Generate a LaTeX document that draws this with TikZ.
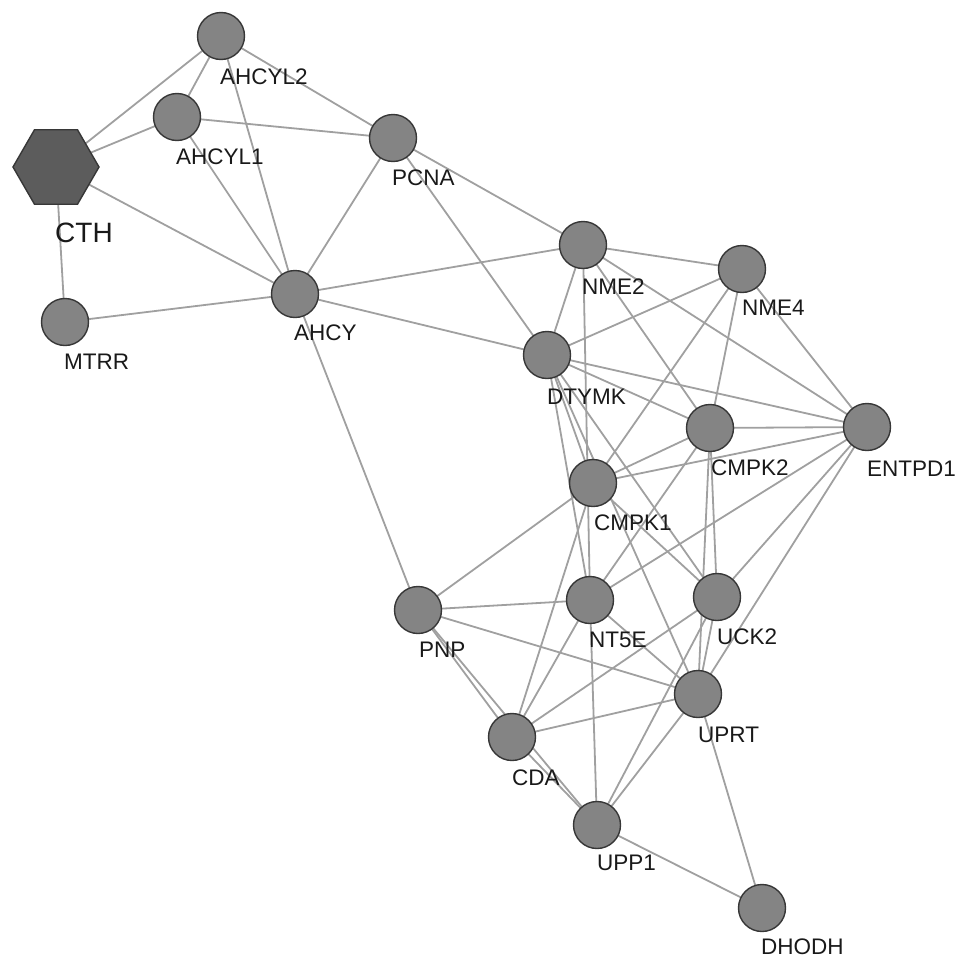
\documentclass[tikz,border=0pt]{standalone}
\usepackage{fontspec}
\setmainfont{Liberation Sans}
\usetikzlibrary{shapes.geometric,backgrounds}
\definecolor{nodefill}{RGB}{132,132,132}
\definecolor{nodeline}{RGB}{55,55,55}
\definecolor{hexfill}{RGB}{92,92,92}
\definecolor{edgecol}{RGB}{160,160,160}
\definecolor{txtcol}{RGB}{25,25,25}
\tikzset{
  gene/.style={circle,fill=nodefill,draw=nodeline,line width=1.4pt,minimum size=47pt,inner sep=0pt},
  hub/.style={regular polygon,regular polygon sides=6,fill=hexfill,draw=nodeline,line width=1.4pt,minimum size=86pt,inner sep=0pt},
  lbl/.style={anchor=west,inner sep=0pt,text=txtcol,font=\fontsize{22.5}{24}\selectfont},
  biglbl/.style={anchor=west,inner sep=0pt,text=txtcol,font=\fontsize{28}{30}\selectfont},
  link/.style={draw=edgecol,line width=1.8pt}
}
\begin{document}
\begin{tikzpicture}[x=1pt,y=-1pt]
\useasboundingbox (0,0) rectangle (969,969);
% nodes
\node[hub]  (CTH)    at (56,167) {};
\node[gene] (AHCYL2) at (221,36) {};
\node[gene] (AHCYL1) at (177,117) {};
\node[gene] (PCNA)   at (393,138) {};
\node[gene] (MTRR)   at (65,322) {};
\node[gene] (AHCY)   at (295,294) {};
\node[gene] (NME2)   at (583,245) {};
\node[gene] (NME4)   at (742,269) {};
\node[gene] (DTYMK)  at (547,355) {};
\node[gene] (CMPK2)  at (710,428) {};
\node[gene] (ENTPD1) at (867,427) {};
\node[gene] (CMPK1)  at (593,483) {};
\node[gene] (PNP)    at (418,610) {};
\node[gene] (NT5E)   at (590,600) {};
\node[gene] (UCK2)   at (717,597) {};
\node[gene] (UPRT)   at (698,694) {};
\node[gene] (CDA)    at (512,737) {};
\node[gene] (UPP1)   at (597,825) {};
\node[gene] (DHODH)  at (762,908) {};
% labels
\node[biglbl] (lCTH)    at (55,233) {CTH};
\node[lbl] (lAHCYL2) at (220,77) {AHCYL2};
\node[lbl] (lAHCYL1) at (176,157) {AHCYL1};
\node[lbl] (lPCNA)   at (392,178) {PCNA};
\node[lbl] (lMTRR)   at (64,362) {MTRR};
\node[lbl] (lAHCY)   at (294,333) {AHCY};
\node[lbl] (lNME2)   at (582,287) {NME2};
\node[lbl] (lNME4)   at (742,308) {NME4};
\node[lbl] (lDTYMK)  at (547,397) {DTYMK};
\node[lbl] (lCMPK2)  at (711,468) {CMPK2};
\node[lbl] (lENTPD1) at (867,469) {ENTPD1};
\node[lbl] (lCMPK1)  at (594,523) {CMPK1};
\node[lbl] (lPNP)    at (419,650) {PNP};
\node[lbl] (lNT5E)   at (589,640) {NT5E};
\node[lbl] (lUCK2)   at (717,637) {UCK2};
\node[lbl] (lUPRT)   at (698,735) {UPRT};
\node[lbl] (lCDA)    at (512,778) {CDA};
\node[lbl] (lUPP1)   at (597,863) {UPP1};
\node[lbl] (lDHODH)  at (761,947) {DHODH};
% edges
\begin{pgfonlayer}{background}
\foreach \a/\b in {CTH/AHCYL2,CTH/AHCYL1,CTH/AHCY,CTH/MTRR,
  AHCYL2/AHCYL1,AHCYL2/PCNA,AHCYL2/AHCY,AHCYL1/PCNA,AHCYL1/AHCY,
  PCNA/AHCY,PCNA/NME2,PCNA/DTYMK,MTRR/AHCY,AHCY/NME2,AHCY/DTYMK,AHCY/PNP,
  NME2/NME4,NME2/DTYMK,NME2/NT5E,NME2/CMPK2,NME2/ENTPD1,
  NME4/DTYMK,NME4/CMPK1,NME4/CMPK2,NME4/ENTPD1,
  DTYMK/ENTPD1,DTYMK/CMPK2,DTYMK/CMPK1,DTYMK/NT5E,DTYMK/UCK2,DTYMK/UPRT,
  CMPK2/ENTPD1,CMPK2/CMPK1,CMPK2/UCK2,CMPK2/UPRT,CMPK2/NT5E,
  ENTPD1/CMPK1,ENTPD1/NT5E,ENTPD1/UCK2,ENTPD1/UPRT,
  CMPK1/PNP,CMPK1/CDA,CMPK1/UCK2,
  PNP/NT5E,PNP/UPRT,PNP/CDA,PNP/UPP1,
  NT5E/UPRT,NT5E/CDA,NT5E/UPP1,
  UCK2/CDA,UCK2/UPP1,UCK2/UPRT,
  UPRT/CDA,UPRT/UPP1,UPRT/DHODH,CDA/UPP1,UPP1/DHODH}
  \draw[link] (\a.center) -- (\b.center);
\end{pgfonlayer}
\end{tikzpicture}
\end{document}
